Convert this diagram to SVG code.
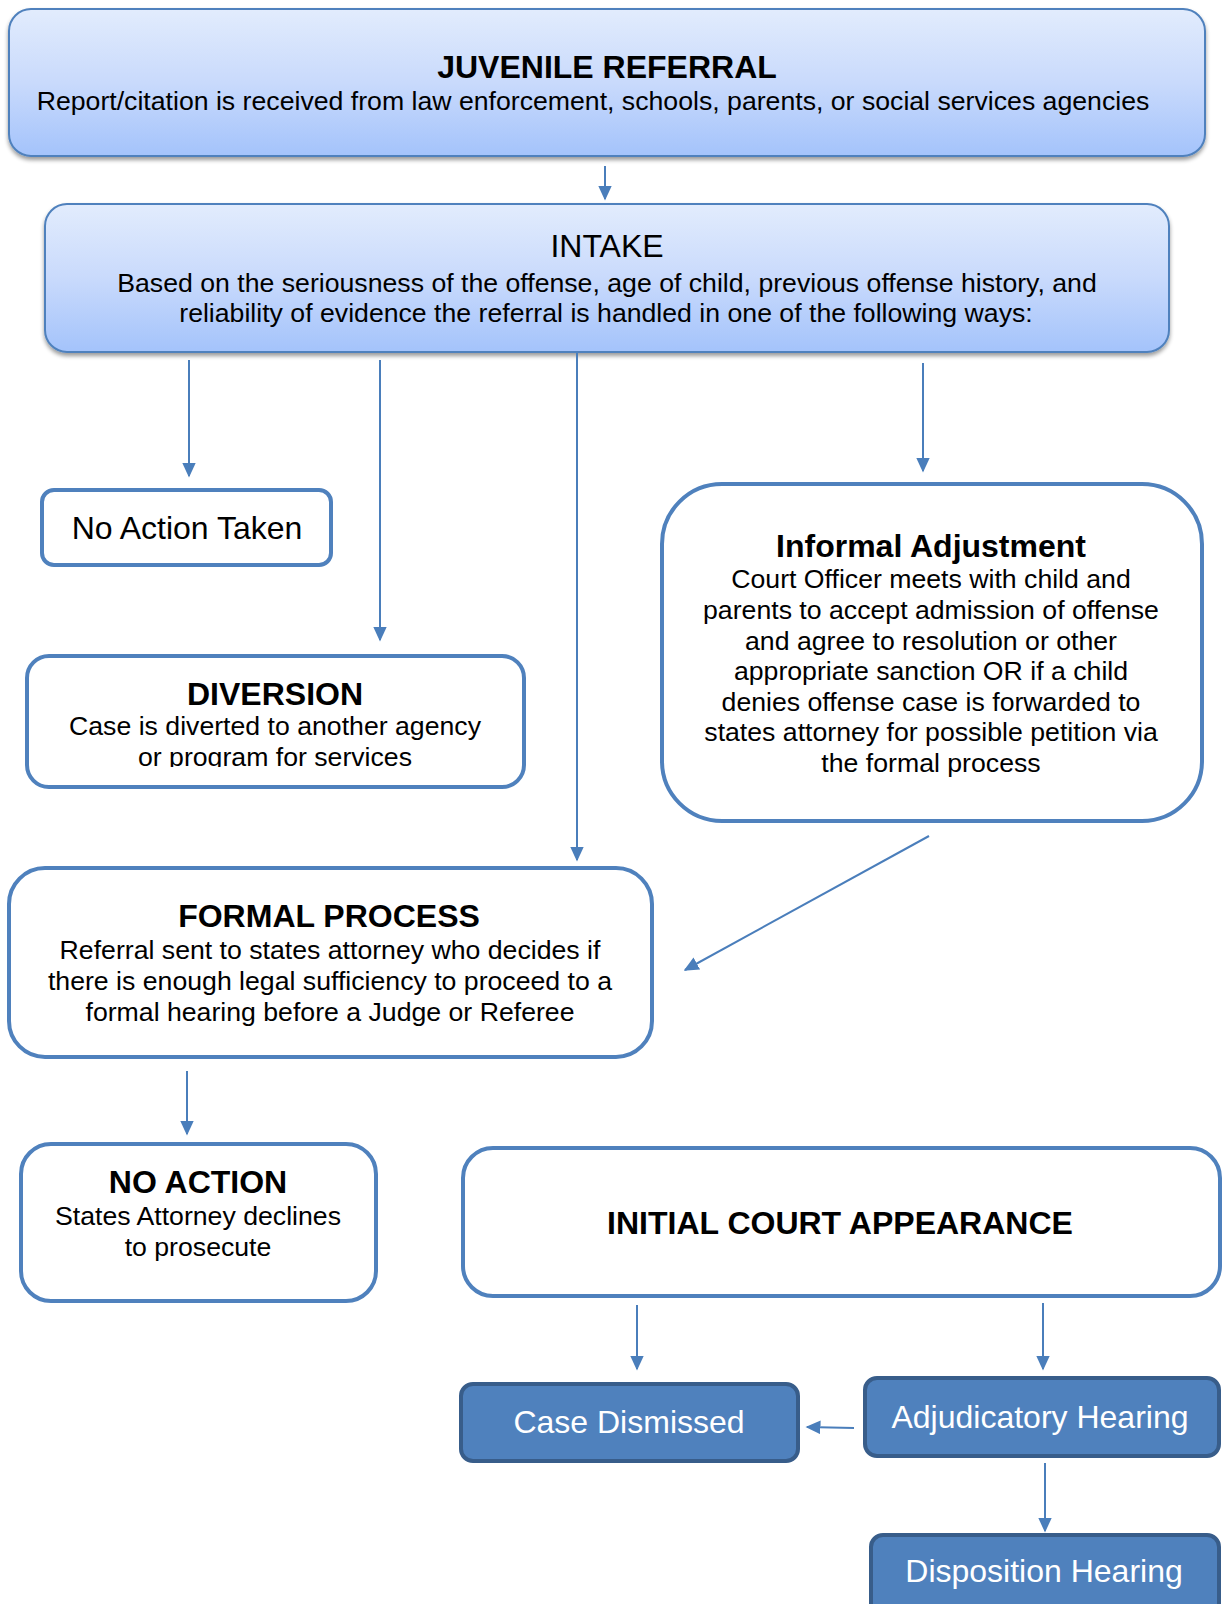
<svg xmlns="http://www.w3.org/2000/svg" width="1222" height="1604" viewBox="0 0 1222 1604">
  <style>
    text { font-family: "Liberation Sans", Arial, sans-serif; fill: #000; text-anchor: middle; }
    .title { font-size: 32px; font-weight: bold; }
    .head { font-size: 32px; }
    .body { font-size: 26.67px; }
    .light { fill: #fff; font-size: 32px; }
    .grad { fill: url(#blueGrad); stroke: #4F81BD; stroke-width: 2; filter: url(#shadow); }
    .plain { fill: #fff; stroke: #4F81BD; stroke-width: 4; }
    .solid { fill: #4F81BD; stroke: #385D8A; stroke-width: 4; }
    .conn line { stroke: #4A7EBB; stroke-width: 2; marker-end: url(#arrow); }
  </style>
  <defs>
    <linearGradient id="blueGrad" x1="0" y1="0" x2="0" y2="1">
      <stop offset="0" stop-color="#E2ECFD"/>
      <stop offset="0.5" stop-color="#C9DAFC"/>
      <stop offset="1" stop-color="#A4C3FB"/>
    </linearGradient>
    <filter id="shadow" x="-5%" y="-10%" width="110%" height="130%">
      <feGaussianBlur in="SourceAlpha" stdDeviation="2"/>
      <feOffset dx="0" dy="3" result="b"/>
      <feComponentTransfer><feFuncA type="linear" slope="0.4"/></feComponentTransfer>
      <feMerge><feMergeNode/><feMergeNode in="SourceGraphic"/></feMerge>
    </filter>
    <marker id="arrow" viewBox="0 0 10 10" refX="9" refY="5" markerWidth="7.5" markerHeight="7.5" markerUnits="strokeWidth" orient="auto">
      <path d="M0,0.4 L10,5 L0,9.6 z" fill="#4A7EBB"/>
    </marker>
    <clipPath id="divClip">
      <rect x="27" y="655" width="497" height="112"/>
    </clipPath>
  </defs>

  <g id="juvenile-referral">
    <rect class="grad" x="9" y="9" width="1196" height="147" rx="22"/>
    <text class="title" x="607" y="78">JUVENILE REFERRAL</text>
    <text class="body" x="593" y="110">Report/citation is received from law enforcement, schools, parents, or social services agencies</text>
  </g>

  <g id="intake">
    <rect class="grad" x="45" y="204" width="1124" height="148" rx="22"/>
    <text class="head" x="607" y="257">INTAKE</text>
    <text class="body" x="607" y="292">Based on the seriousness of the offense, age of child, previous offense history, and</text>
    <text class="body" x="606" y="322">reliability of evidence the referral is handled in one of the following ways:</text>
  </g>

  <g id="no-action-taken">
    <rect class="plain" x="42" y="490" width="289" height="75" rx="12"/>
    <text class="head" x="187" y="539">No Action Taken</text>
  </g>

  <g id="diversion">
    <rect class="plain" x="27" y="656" width="497" height="131" rx="22"/>
    <text class="title" x="275" y="705">DIVERSION</text>
    <text class="body" x="275" y="735">Case is diverted to another agency</text>
    <text class="body" x="275" y="766" clip-path="url(#divClip)">or program for services</text>
  </g>

  <g id="informal-adjustment">
    <rect class="plain" x="662" y="484" width="540" height="337" rx="60"/>
    <text class="title" x="931" y="557">Informal Adjustment</text>
    <text class="body" x="931" y="588">Court Officer meets with child and</text>
    <text class="body" x="931" y="619">parents to accept admission of offense</text>
    <text class="body" x="931" y="650">and agree to resolution or other</text>
    <text class="body" x="931" y="680">appropriate sanction OR if a child</text>
    <text class="body" x="931" y="711">denies offense case is forwarded to</text>
    <text class="body" x="931" y="741">states attorney for possible petition via</text>
    <text class="body" x="931" y="772">the formal process</text>
  </g>

  <g id="formal-process">
    <rect class="plain" x="9" y="868" width="643" height="189" rx="36"/>
    <text class="title" x="329" y="927">FORMAL PROCESS</text>
    <text class="body" x="330" y="959">Referral sent to states attorney who decides if</text>
    <text class="body" x="330" y="990">there is enough legal sufficiency to proceed to a</text>
    <text class="body" x="330" y="1021">formal hearing before a Judge or Referee</text>
  </g>

  <g id="no-action">
    <rect class="plain" x="21" y="1144" width="355" height="157" rx="30"/>
    <text class="title" x="198" y="1193">NO ACTION</text>
    <text class="body" x="198" y="1225">States Attorney declines</text>
    <text class="body" x="198" y="1256">to prosecute</text>
  </g>

  <g id="initial-court-appearance">
    <rect class="plain" x="463" y="1148" width="757" height="148" rx="30"/>
    <text class="title" x="840" y="1234">INITIAL COURT APPEARANCE</text>
  </g>

  <g id="case-dismissed">
    <rect class="solid" x="461" y="1384" width="337" height="77" rx="12"/>
    <text class="light" x="629" y="1433">Case Dismissed</text>
  </g>

  <g id="adjudicatory-hearing">
    <rect class="solid" x="865" y="1378" width="354" height="78" rx="12"/>
    <text class="light" x="1040" y="1428">Adjudicatory Hearing</text>
  </g>

  <g id="disposition-hearing">
    <rect class="solid" x="871" y="1535" width="348" height="90" rx="12"/>
    <text class="light" x="1044" y="1582">Disposition Hearing</text>
  </g>

  <g class="conn" id="connectors">
    <line x1="605" y1="166" x2="605" y2="199"/>
    <line x1="189" y1="360" x2="189" y2="476"/>
    <line x1="380" y1="360" x2="380" y2="640"/>
    <line x1="577" y1="353" x2="577" y2="860"/>
    <line x1="923" y1="363" x2="923" y2="471"/>
    <line x1="929" y1="836" x2="685" y2="970"/>
    <line x1="187" y1="1071" x2="187" y2="1134"/>
    <line x1="637" y1="1305" x2="637" y2="1369"/>
    <line x1="1043" y1="1303" x2="1043" y2="1369"/>
    <line x1="854" y1="1428" x2="807" y2="1427"/>
    <line x1="1045" y1="1463" x2="1045" y2="1531"/>
  </g>
</svg>
